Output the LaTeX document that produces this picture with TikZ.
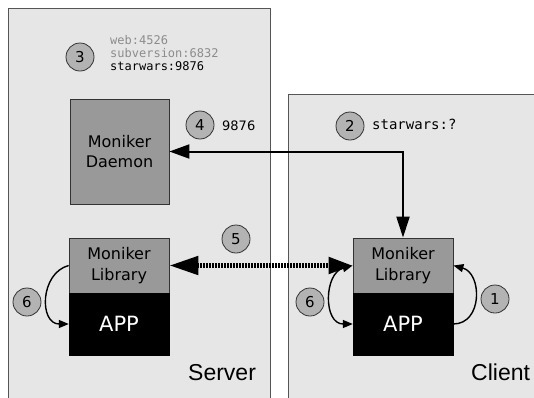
\documentclass[tikz,border=0pt]{standalone}
\usepackage{fontspec}
\setmainfont{DejaVu Sans}
\newfontfamily\monofont{DejaVu Sans Mono}
\newfontfamily\arialfont{Liberation Sans}
\usetikzlibrary{arrows.meta}
\definecolor{panelfill}{HTML}{E6E6E6}
\definecolor{panelline}{HTML}{555555}
\definecolor{boxfill}{HTML}{999999}
\definecolor{circfill}{HTML}{B3B3B3}
\definecolor{graytext}{HTML}{8C8C8C}
\tikzset{
  panel/.style={fill=panelfill, draw=panelline, line width=0.9pt},
  graybox/.style={draw=black!80, fill=boxfill, line width=0.8pt, inner sep=0pt, align=center,
    font=\fontsize{16}{20.5}\selectfont, minimum width=100pt},
  appbox/.style={draw=black, fill=black, text=white, inner sep=0pt, minimum width=100pt,
    minimum height=62pt, font=\fontsize{21}{24}\selectfont},
  numcirc/.style={circle, draw=black!80, fill=circfill, line width=0.8pt, minimum size=28pt,
    inner sep=0pt, font=\fontsize{15}{16}\selectfont},
  bigarrow/.style={line width=2pt, {Triangle[length=20pt,width=14pt]}-{Triangle[length=21pt,width=13pt]}},
  dotarrow/.style={line width=5pt, dash pattern=on 1.8pt off 1.2pt,
    {Triangle[length=29pt,width=18pt]}-{Triangle[length=24pt,width=16pt]}},
  loopar/.style={line width=1.4pt, -{Triangle[length=10pt,width=8pt]}},
  looparboth/.style={line width=1.4pt, {Triangle[length=10pt,width=8pt]}-{Triangle[length=10pt,width=8pt]}},
  monotext/.style={font=\monofont\fontsize{12}{13}\selectfont, anchor=base west, inner sep=0pt},
  bigtext/.style={font=\arialfont\fontsize{23}{26}\selectfont, anchor=base west, inner sep=0pt},
}
\begin{document}
\begin{tikzpicture}[x=1pt,y=-1pt]
\useasboundingbox (0,0) rectangle (534,397);
\clip (0,0) rectangle (534,397);
\fill[white] (0,0) rectangle (534,397);
% panels
\draw[panel] (8,8) rectangle (270,405);
\draw[panel] (288,94) rectangle (545,405);
% server
\node[graybox, minimum width=99pt, minimum height=105pt] (daemon) at (119.5,151.5) {Moniker\\Daemon};
\node[graybox, minimum height=55pt] (slib) at (119,265.5) {Moniker\\Library};
\node[appbox] (sapp) at (119,324) {APP};
% client
\node[graybox, minimum height=55pt] (clib) at (403,265.5) {Moniker\\Library};
\node[appbox] (capp) at (403,324) {APP};
% circles
\node[numcirc] (c3) at (80,57) {3};
\node[numcirc] (c4) at (200,125) {4};
\node[numcirc] (c2) at (350,126) {2};
\node[numcirc] (c5) at (236,239) {5};
\node[numcirc] (c6s) at (27,302) {6};
\node[numcirc] (c6c) at (310,302) {6};
\node[numcirc] (c1) at (495,299) {1};
% texts
\node[monotext, text=graytext] (t1) at (110,44) {web:4526};
\node[monotext, text=graytext] (t2) at (110,57) {subversion:6832};
\node[monotext] (t3) at (110,70) {starwars:9876};
\node[anchor=base west, inner sep=0pt, font=\fontsize{13}{14}\selectfont] (t4) at (222,130) {9876};
\node[anchor=base west, inner sep=0pt, font=\monofont\fontsize{14}{15}\selectfont] (t5) at (372,129) {starwars:?};
\node[bigtext] (server) at (188,380) {Server};
\node[bigtext] (client) at (471,380) {Client};
% connectors
\draw[bigarrow] (daemon.east) -| (clib.north);
\draw[dotarrow] (slib.east) -- (clib.west);
\draw[loopar] (slib.west) to[out=195, in=180, looseness=1.3] (sapp.west);
\draw[looparboth] (clib.west) to[out=195, in=180, looseness=1.3] (capp.west);
\draw[loopar] (capp.east) to[out=0, in=-15, looseness=1.3] (clib.east);
\end{tikzpicture}
\end{document}
